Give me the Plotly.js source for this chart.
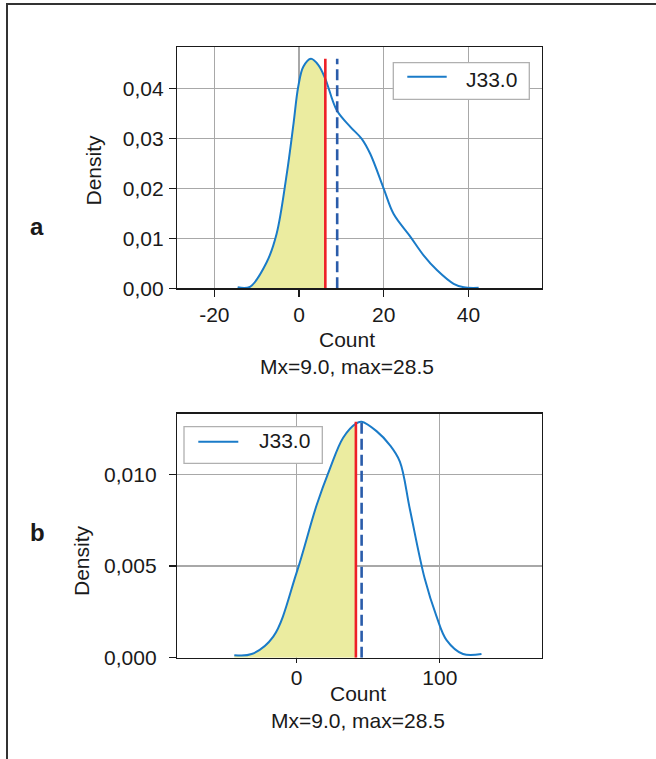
<!DOCTYPE html>
<html>
<head>
<meta charset="utf-8">
<script src="https://cdn.plot.ly/plotly-3.0.1.min.js"></script>
<style>html,body{margin:0;padding:0;background:#fff;}#chart{width:656px;height:759px;}</style>
</head>
<body>
<div id="chart"></div>
<script>
// ---- data ----
var seriesName = "J33.0";
// panel a
var aCount   = [-14.5, -11.6, -7.6, -5.3, -2.9, -1.3, -0.2, 1.0, 2.8, 4.6, 6.2, 8.9, 12.1, 14.8, 16.8, 20.0, 22.3, 26.3, 29.4, 32.6, 36.5, 38.9, 42.4];
var aDensity = [0.0002, 0.0003, 0.0053, 0.0109, 0.0229, 0.0330, 0.0403, 0.0443, 0.0459, 0.0446, 0.0419, 0.0356, 0.0323, 0.0299, 0.0269, 0.0199, 0.0149, 0.0103, 0.0066, 0.0036, 0.0009, 0.0002, 0.0001];
var aRedX = 6.2;      // solid red marker
var aMeanX = 9.0;     // dashed blue marker (Mx)
var aLineTop = 0.0459;
var aXTicks = [-20, 0, 20, 40];
var aXTickText = ["-20", "0", "20", "40"];
var aYTicks = [0, 0.01, 0.02, 0.03, 0.04];
// panel b
var bCount   = [-43.5, -31.4, -16.3, 0.0, 13.9, 23.2, 32.5, 41.4, 45.4, 55.8, 65.1, 72.1, 79.1, 89.5, 97.7, 104.7, 116.2, 129.1];
var bDensity = [0.00014, 0.0002, 0.00115, 0.00464, 0.0083, 0.0103, 0.0120, 0.01277, 0.01287, 0.01236, 0.0116, 0.0107, 0.0081, 0.0043, 0.00225, 0.00096, 0.0002, 0.0002];
var bRedX = 41.4;
var bMeanX = 45.4;
var bLineTop = 0.01287;
var bXTicks = [0, 100];
var bXTickText = ["0", "100"];
var bYTicks = [0, 0.005, 0.010];
var subtitle = "Mx=9.0, max=28.5";
var xTitle = "Count";
var yTitle = "Density";
var panelLabels = ["a", "b"];

// ---- helpers ----
var W = 656, H = 759;
function px(x) { return x / W; }
function py(y) { return 1 - y / H; }
function cut(xs, ys, lim) {
  var ox = [], oy = [];
  for (var i = 0; i < xs.length; i++) { if (xs[i] <= lim) { ox.push(xs[i]); oy.push(ys[i]); } }
  return [ox, oy];
}
var FONT = "Liberation Sans, Arial, sans-serif";
var FS = 21;
var curveColor = "#1a7bc8";
var fillColor = "#ebeca0";
var redColor = "#ee2028";
var meanColor = "#2a5caa";

var aFill = cut(aCount, aDensity, aRedX);
var bFill = cut(bCount, bDensity, bRedX);

var traces = [
  {x: aFill[0], y: aFill[1], type: "scatter", mode: "lines", fill: "tozeroy", fillcolor: fillColor, line: {width: 0, shape: "spline"}, xaxis: "x", yaxis: "y", hoverinfo: "skip"},
  {x: aCount, y: aDensity, type: "scatter", mode: "lines", name: seriesName, line: {color: curveColor, width: 2, shape: "spline"}, xaxis: "x", yaxis: "y"},
  {x: [aRedX, aRedX], y: [0, aLineTop], type: "scatter", mode: "lines", line: {color: redColor, width: 2.6}, xaxis: "x", yaxis: "y"},
  {x: [aMeanX, aMeanX], y: [0, aLineTop], type: "scatter", mode: "lines", line: {color: meanColor, width: 2.6, dash: "11px,5px"}, xaxis: "x", yaxis: "y"},

  {x: bFill[0], y: bFill[1], type: "scatter", mode: "lines", fill: "tozeroy", fillcolor: fillColor, line: {width: 0, shape: "spline"}, xaxis: "x2", yaxis: "y2", hoverinfo: "skip"},
  {x: bCount, y: bDensity, type: "scatter", mode: "lines", name: seriesName, line: {color: curveColor, width: 2, shape: "spline"}, xaxis: "x2", yaxis: "y2"},
  {x: [bRedX, bRedX], y: [0, bLineTop], type: "scatter", mode: "lines", line: {color: redColor, width: 2.6}, xaxis: "x2", yaxis: "y2"},
  {x: [bMeanX, bMeanX], y: [0, bLineTop], type: "scatter", mode: "lines", line: {color: meanColor, width: 2.6, dash: "11px,5px"}, xaxis: "x2", yaxis: "y2"}
];

var axisCommon = {
  showgrid: true, gridcolor: "#a8a8a8", gridwidth: 1.2,
  showline: true, mirror: true, linecolor: "#1a1a1a", linewidth: 1.5,
  zeroline: false, ticks: "outside", ticklen: 7, tickcolor: "#1a1a1a", tickwidth: 1.2,
  tickfont: {family: FONT, size: FS, color: "#1a1a1a"}, fixedrange: true
};
function ax(extra) { var o = {}; for (var k in axisCommon) o[k] = axisCommon[k]; for (var k2 in extra) o[k2] = extra[k2]; return o; }

var xDom = [px(177.3), px(541.5)];
var layout = {
  width: W, height: H,
  margin: {l: 0, r: 0, t: 0, b: 0},
  paper_bgcolor: "#fff", plot_bgcolor: "#fff",
  showlegend: false,
  separators: ", ",
  font: {family: FONT, size: FS, color: "#1a1a1a"},
  xaxis: ax({domain: xDom, range: [-28.75, 57.24], tickmode: "array", tickvals: aXTicks, ticktext: aXTickText, anchor: "y"}),
  yaxis: ax({domain: [py(288.3), py(47.3)], range: [0, 0.0482], tickmode: "array", tickvals: aYTicks, tickformat: ".2f", anchor: "x", ticklabelstandoff: 1}),
  xaxis2: ax({domain: xDom, range: [-83.3, 171], tickmode: "array", tickvals: bXTicks, ticktext: bXTickText, anchor: "y2", ticklen: 4, ticklabelstandoff: -3}),
  yaxis2: ax({domain: [py(657.7), py(413.7)], range: [0, 0.01331], tickmode: "array", tickvals: bYTicks, tickformat: ".3f", anchor: "x2", ticklabelstandoff: 8}),
  shapes: [
    // outer frame
    {type: "rect", xref: "paper", yref: "paper", x0: px(7), x1: 1.2, y0: -0.2, y1: py(4), line: {color: "#333", width: 2}},
    // legend a
    {type: "rect", xref: "paper", yref: "paper", x0: px(393.3), x1: px(529.3), y0: py(99.3), y1: py(62.7), line: {color: "#b0b0b0", width: 1.3}, fillcolor: "#fff"},
    {type: "line", xref: "paper", yref: "paper", x0: px(407.3), x1: px(446.7), y0: py(76.7), y1: py(76.7), line: {color: curveColor, width: 2}},
    // legend b
    {type: "rect", xref: "paper", yref: "paper", x0: px(184), x1: px(322.3), y0: py(463.3), y1: py(426.7), line: {color: "#b0b0b0", width: 1.3}, fillcolor: "#fff"},
    {type: "line", xref: "paper", yref: "paper", x0: px(198.3), x1: px(238.3), y0: py(441.7), y1: py(441.7), line: {color: curveColor, width: 2}}
  ],
  annotations: [
    {text: seriesName, xref: "paper", yref: "paper", x: px(464), y: py(80), xanchor: "left", yanchor: "middle", showarrow: false, font: {family: FONT, size: FS}},
    {text: seriesName, xref: "paper", yref: "paper", x: px(257.3), y: py(440.5), xanchor: "left", yanchor: "middle", showarrow: false, font: {family: FONT, size: FS}},
    {text: xTitle, xref: "paper", yref: "paper", x: px(347), y: py(340), xanchor: "center", yanchor: "middle", showarrow: false, font: {family: FONT, size: FS}},
    {text: subtitle, xref: "paper", yref: "paper", x: px(347), y: py(366), xanchor: "center", yanchor: "middle", showarrow: false, font: {family: FONT, size: FS}},
    {text: xTitle, xref: "paper", yref: "paper", x: px(358), y: py(693), xanchor: "center", yanchor: "middle", showarrow: false, font: {family: FONT, size: FS}},
    {text: subtitle, xref: "paper", yref: "paper", x: px(358), y: py(720), xanchor: "center", yanchor: "middle", showarrow: false, font: {family: FONT, size: FS}},
    {text: yTitle, xref: "paper", yref: "paper", x: px(93.5), y: py(170), xanchor: "center", yanchor: "middle", textangle: -90, showarrow: false, font: {family: FONT, size: FS}},
    {text: yTitle, xref: "paper", yref: "paper", x: px(81), y: py(561), xanchor: "center", yanchor: "middle", textangle: -90, showarrow: false, font: {family: FONT, size: FS}},
    {text: "<b>" + panelLabels[0] + "</b>", xref: "paper", yref: "paper", x: px(36.5), y: py(227), xanchor: "center", yanchor: "middle", showarrow: false, font: {family: FONT, size: 24}},
    {text: "<b>" + panelLabels[1] + "</b>", xref: "paper", yref: "paper", x: px(37), y: py(532), xanchor: "center", yanchor: "middle", showarrow: false, font: {family: FONT, size: 24}}
  ]
};

Plotly.newPlot("chart", traces, layout, {staticPlot: true, displayModeBar: false});
</script>
</body>
</html>
